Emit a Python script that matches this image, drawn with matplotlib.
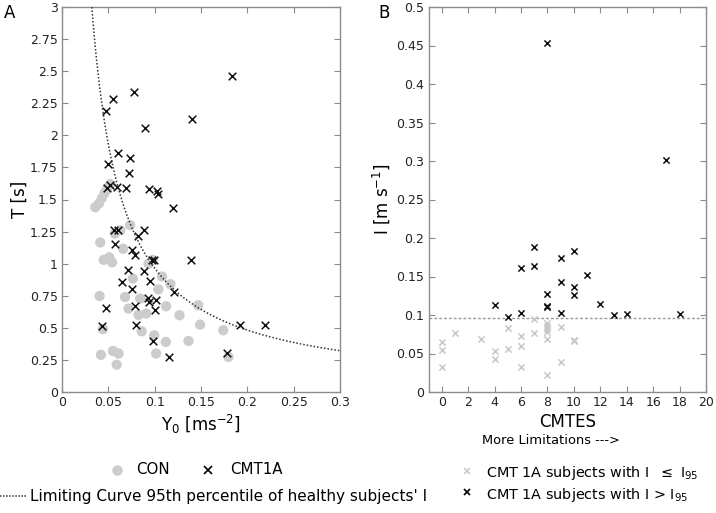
import matplotlib
matplotlib.use("Agg")
import matplotlib.pyplot as plt
from matplotlib.lines import Line2D
import numpy as np

plt.rcParams['font.family'] = ['DejaVu Sans']

# ---------------- Panel A data ----------------
con_y0 = [0.036, 0.040, 0.043, 0.046, 0.049, 0.052,
          0.0413, 0.057, 0.0736, 0.066, 0.045, 0.051, 0.054, 0.063,
          0.0765, 0.0934, 0.098, 0.108, 0.104, 0.117,
          0.0405, 0.068, 0.0718, 0.0844, 0.0826, 0.091, 0.1124, 0.1268, 0.147, 0.149,
          0.0442, 0.086, 0.0995, 0.112, 0.1365, 0.174,
          0.042, 0.055, 0.061, 0.059, 0.1016, 0.1796]
con_t = [1.44, 1.47, 1.51, 1.55, 1.59, 1.62,
         1.165, 1.235, 1.30, 1.117, 1.03, 1.05, 1.01, 1.26,
         0.884, 1.00, 1.03, 0.90, 0.80, 0.84,
         0.748, 0.74, 0.65, 0.728, 0.60, 0.611, 0.668, 0.598, 0.676, 0.525,
         0.49, 0.473, 0.442, 0.39, 0.398, 0.481,
         0.29, 0.32, 0.30, 0.213, 0.30, 0.273]

cmt_y0 = [0.183, 0.055, 0.047, 0.078, 0.140, 0.090, 0.060, 0.050, 0.0736, 0.072,
          0.049, 0.052, 0.059, 0.069, 0.094, 0.103, 0.1035, 0.120,
          0.056, 0.060, 0.057, 0.088, 0.082, 0.075, 0.079, 0.097, 0.099, 0.139,
          0.071, 0.088, 0.065, 0.095, 0.075, 0.121, 0.093, 0.1016, 0.094, 0.100,
          0.079, 0.048, 0.043, 0.080, 0.192, 0.219, 0.098, 0.116, 0.178]
cmt_t = [2.46, 2.28, 2.19, 2.34, 2.125, 2.06, 1.86, 1.78, 1.82, 1.71,
         1.59, 1.61, 1.60, 1.59, 1.585, 1.567, 1.546, 1.43,
         1.266, 1.266, 1.157, 1.26, 1.216, 1.11, 1.065, 1.03, 1.025, 1.03,
         0.95, 0.94, 0.857, 0.862, 0.806, 0.777, 0.736, 0.72, 0.70, 0.637,
         0.668, 0.652, 0.517, 0.525, 0.525, 0.52, 0.40, 0.273, 0.304]

I95 = 0.0965  # 95th percentile of healthy subjects' I (limiting curve T = I95 / Y0)

# ---------------- Panel B data ----------------
hi_cmtes = [8, 17, 4, 5, 6, 6, 7, 7, 8, 8, 8, 9, 9, 9, 10, 10, 10, 11, 12, 13, 14, 18]
hi_i = [0.453, 0.301, 0.113, 0.0975, 0.161, 0.103, 0.188, 0.163, 0.127, 0.1115, 0.1105,
        0.174, 0.143, 0.102, 0.183, 0.136, 0.126, 0.152, 0.114, 0.100, 0.1015, 0.1015]
lo_cmtes = [0, 0, 0, 1, 3, 4, 4, 5, 5, 6, 6, 6, 7, 7, 8, 8, 8, 8, 8, 8, 9, 9, 10, 10]
lo_i = [0.065, 0.055, 0.032, 0.077, 0.0685, 0.053, 0.043, 0.083, 0.056, 0.073, 0.060, 0.032,
        0.0945, 0.077, 0.078, 0.082, 0.086, 0.089, 0.0685, 0.0225, 0.084, 0.0395, 0.067, 0.066]
I95_line = 0.0955

W, H = 716, 513
fig = plt.figure(figsize=(W / 100, H / 100), dpi=100)

spine_col = '#8c8c8c'
con_col = '#cccccc'
lo_col = '#c8c8c8'
dark = '#111111'


def fx(px):
    return px / W


def fy(py):
    return 1 - py / H


def style(ax):
    for s in ax.spines.values():
        s.set_color(spine_col)
        s.set_linewidth(1.0)
    ax.tick_params(direction='in', length=4, width=0.8, color=spine_col,
                   top=True, right=True, labelsize=9, pad=3, labelcolor='#222222')


def fmt(v):
    return ('%.2f' % v).rstrip('0').rstrip('.')


# ---------------- Panel A ----------------
axA = fig.add_axes([fx(62), fy(392), 278 / W, 385 / H])
style(axA)
axA.scatter(con_y0, con_t, s=55, color=con_col, edgecolors='none', zorder=2)
axA.scatter(cmt_y0, cmt_t, s=30, marker='x', color=dark, linewidths=1.1, zorder=3)
yy = np.linspace(I95 / 3.0, 0.3, 300)
axA.plot(yy, I95 / yy, color='#333333', linestyle=(0, (1, 1.3)), linewidth=1.1, zorder=4)
axA.set_xlim(0, 0.3)
axA.set_ylim(0, 3)
xt = np.arange(0, 0.301, 0.05)
yt = np.arange(0, 3.01, 0.25)
axA.set_xticks(xt)
axA.set_xticklabels([fmt(v) for v in xt])
axA.set_yticks(yt)
axA.set_yticklabels([fmt(v) for v in yt])
axA.set_xlabel('Y$_0$ [ms$^{-2}$]', fontsize=12, labelpad=3)
axA.set_ylabel('T [s]', fontsize=12, labelpad=1)

# ---------------- Panel B ----------------
axB = fig.add_axes([fx(428.5), fy(392), 277.5 / W, 385 / H])
style(axB)
axB.axhline(I95_line, color='#999999', linestyle=(0, (2, 1.5)), linewidth=1.0, zorder=1)
axB.scatter(lo_cmtes, lo_i, s=20, marker='x', color=lo_col, linewidths=1.1, zorder=2)
axB.scatter(hi_cmtes, hi_i, s=20, marker='x', color=dark, linewidths=1.1, zorder=3)
axB.set_xlim(-1, 20)
axB.set_ylim(0, 0.5)
xtb = np.arange(0, 21, 2)
ytb = np.arange(0, 0.501, 0.05)
axB.set_xticks(xtb)
axB.set_xticklabels([str(int(v)) for v in xtb])
axB.set_yticks(ytb)
axB.set_yticklabels([fmt(v) for v in ytb])
axB.set_xlabel('CMTES', fontsize=12, labelpad=3)
axB.set_ylabel('I [m s$^{-1}$]', fontsize=12, labelpad=3)

fig.text(fx(4), fy(13), 'A', fontsize=12, va='center', ha='left')
fig.text(fx(378), fy(13), 'B', fontsize=12, va='center', ha='left')
fig.text(fx(482), fy(440), 'More Limitations --->', fontsize=9.4, va='center', ha='left')

# ---------------- Legends (manual placement) ----------------
def fig_marker(px, py, **kw):
    fig.add_artist(Line2D([fx(px)], [fy(py)], transform=fig.transFigure,
                          linestyle='none', **kw))


ly1, ly2 = 470, 496
fig_marker(117, ly1, marker='o', markersize=7.5, color=con_col, markeredgecolor='none')
fig.text(fx(136), fy(ly1), 'CON', fontsize=10.8, va='center', ha='left')
fig_marker(208, ly1, marker='x', markersize=5.5, color=dark, markeredgewidth=1.3)
fig.text(fx(230), fy(ly1), 'CMT1A', fontsize=10.8, va='center', ha='left')

fig.add_artist(Line2D([fx(0), fx(27)], [fy(ly2), fy(ly2)], transform=fig.transFigure,
                      color='#333333', linestyle=(0, (1, 1)), linewidth=1.1))
fig.text(fx(30), fy(ly2), "Limiting Curve 95th percentile of healthy subjects' I",
         fontsize=11, va='center', ha='left')

ry1, ry2 = 473, 495
fig_marker(467, ry1 - 2, marker='x', markersize=5, color=lo_col, markeredgewidth=1.1)
fig.text(fx(486), fy(ry1), 'CMT 1A subjects with I  $\\leq$ I$_{95}$', fontsize=10.4,
         va='center', ha='left')
fig_marker(467, ry2 - 3, marker='x', markersize=5, color=dark, markeredgewidth=1.3)
fig.text(fx(486), fy(ry2), 'CMT 1A subjects with I > I$_{95}$', fontsize=10.4,
         va='center', ha='left')

fig.savefig('out.png', dpi=100)
